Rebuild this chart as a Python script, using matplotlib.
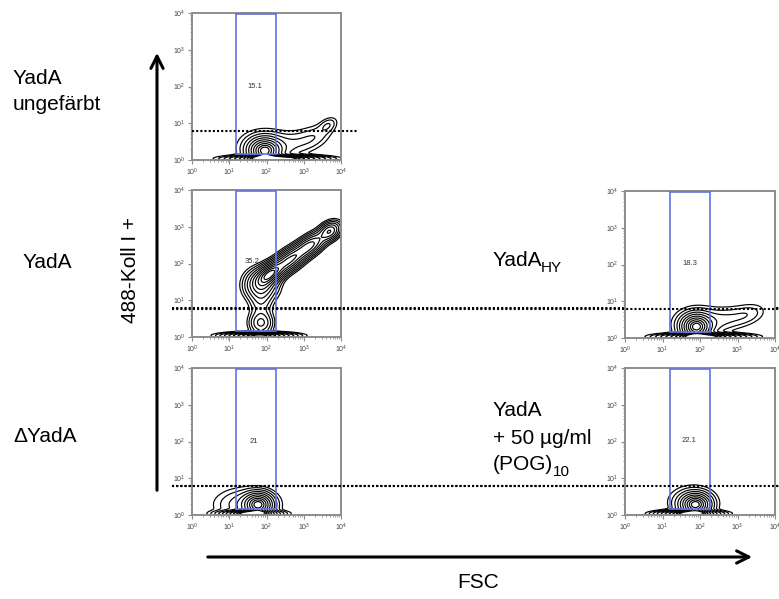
import numpy as np
import matplotlib.pyplot as plt
import matplotlib.transforms as mtransforms
from matplotlib.patches import Rectangle, FancyArrowPatch

plt.rcParams['font.family'] = ['Liberation Sans', 'DejaVu Sans']
plt.rcParams['mathtext.fontset'] = 'custom'
plt.rcParams['mathtext.rm'] = 'Liberation Sans'
plt.rcParams['mathtext.it'] = 'Liberation Sans:italic'

W, H = 779, 599

# gate values shown in each panel
gate_pct = ['15.1', '35.2', '21', '18.3', '22.1']
gate_lbl_x = [50, 41, 46, 54, 51]
gate_lbl_y = [103, 110, 103, 108, 108]
gate_x = [15.5, 180]
gate_y = [1.45, 9500]
threshold = 6.0

# populations, in decades:
# (log FSC, log 488-Koll I, sd along, sd across, angle deg, weight)
pop_ungefaerbt = [
    (1.95, 0.25, 0.24, 0.19, 0, 1.0),
    (1.95, 0.35, 0.42, 0.28, 0, 0.18),
    (2.75, 0.45, 0.45, 0.22, 12, 0.10),
    (3.30, 0.65, 0.32, 0.18, 25, 0.08),
    (3.65, 0.95, 0.17, 0.11, 35, 0.11),
    (2.30, 0.04, 0.65, 0.05, 0, 1.4),
]
pop_yada = [
    (1.85, 1.42, 0.25, 0.24, 0, 0.55),
    (2.10, 1.72, 0.25, 0.15, 36, 1.0),
    (2.60, 2.08, 0.30, 0.15, 36, 0.8),
    (3.15, 2.48, 0.30, 0.14, 36, 0.7),
    (3.70, 2.88, 0.18, 0.13, 36, 0.6),
    (1.85, 0.38, 0.18, 0.18, 0, 0.35),
    (1.85, 0.95, 0.18, 0.28, 0, 0.16),
    (1.80, 0.04, 0.50, 0.05, 0, 1.2),
]
pop_delta = [
    (1.78, 0.28, 0.22, 0.18, 0, 1.0),
    (1.45, 0.28, 0.50, 0.27, 0, 0.18),
    (1.55, 0.04, 0.42, 0.05, 0, 1.1),
]
pop_hy = [
    (1.90, 0.30, 0.22, 0.19, 0, 1.0),
    (1.95, 0.40, 0.40, 0.27, 0, 0.16),
    (2.70, 0.52, 0.42, 0.20, 8, 0.11),
    (3.30, 0.66, 0.30, 0.17, 15, 0.08),
    (2.10, 0.04, 0.60, 0.05, 0, 1.2),
]
pop_pog = [
    (1.88, 0.28, 0.22, 0.17, 0, 1.0),
    (1.80, 0.35, 0.38, 0.26, 0, 0.17),
    (1.70, 0.04, 0.45, 0.05, 0, 1.1),
]
populations = [pop_ungefaerbt, pop_yada, pop_delta, pop_hy, pop_pog]

# axes boxes in pixels: left, top, right, bottom
boxes = [(192, 13, 341, 160), (192, 190, 341, 337), (192, 368, 341, 515),
         (625, 191, 775, 338), (625, 368, 775, 515)]
# dotted threshold line extent in pixels
dot_span = [(192, 358), (172, 779), (172, 779), (172, 779), (172, 779)]


def density(comps, U, V):
    d = np.zeros_like(U)
    for u0, v0, sa, sb, ang, w in comps:
        a = np.deg2rad(ang)
        du, dv = U - u0, V - v0
        p = du * np.cos(a) + dv * np.sin(a)
        q = -du * np.sin(a) + dv * np.cos(a)
        d += w * np.exp(-0.5 * (p / sa) ** 2 - 0.5 * (q / sb) ** 2)
    return d


u = np.linspace(-0.2, 4.2, 500)
v = np.linspace(-0.3, 4.2, 500)
U, V = np.meshgrid(u, v)
ring = np.linspace(0.45, 2.6, 10)

fig = plt.figure(figsize=(W / 100, H / 100), dpi=100)

for i, (l, t, r, b) in enumerate(boxes):
    ax = fig.add_axes([l / W, 1 - b / H, (r - l) / W, (b - t) / H])
    ax.set_xscale('log')
    ax.set_yscale('log')
    D = density(populations[i], U, V)
    # ring levels relative to the brightest non-band spot
    peak = density(populations[i][:-1], U, V).max()
    levels = np.sort(peak * np.exp(-0.5 * ring ** 2))
    ax.contour(10 ** U, 10 ** V, D, levels=levels, colors='black', linewidths=0.85)
    ax.set_xlim(1, 10000)
    ax.set_ylim(1, 10000)
    ax.add_patch(Rectangle((gate_x[0], gate_y[0]), gate_x[1] - gate_x[0],
                           gate_y[1] - gate_y[0], fill=False,
                           edgecolor='#5f73e0', lw=1.2, zorder=5))
    ax.text(gate_lbl_x[i], gate_lbl_y[i], gate_pct[i], fontsize=5.5,
            color='#333333', ha='center', va='center', zorder=7)
    trans = mtransforms.blended_transform_factory(ax.transAxes, ax.transData)
    x0 = (dot_span[i][0] - l) / (r - l)
    x1 = (dot_span[i][1] - l) / (r - l)
    ax.plot([x0, x1], [threshold, threshold], transform=trans, color='black',
            lw=1.5, ls=(0, (1, 1)), clip_on=False, zorder=6)
    for s in ax.spines.values():
        s.set_color('#8c8c8c')
        s.set_linewidth(1.4)
    ax.tick_params(which='major', length=3, width=0.8, color='#8c8c8c',
                   labelsize=5, labelcolor='#444444', pad=2)
    ax.tick_params(which='minor', length=1.6, width=0.6, color='#8c8c8c')
    ax.set_xticks([1, 10, 100, 1000, 10000])
    ax.set_yticks([1, 10, 100, 1000, 10000])

# row labels
fig.text(13 / W, 1 - 79 / H, 'YadA', fontsize=15, va='center')
fig.text(13 / W, 1 - 105 / H, 'ungefärbt', fontsize=15, va='center')
fig.text(23 / W, 1 - 263 / H, 'YadA', fontsize=15, va='center')
fig.text(13 / W, 1 - 437 / H, 'ΔYadA', fontsize=15, va='center')
fig.text(493 / W, 1 - 261 / H, 'YadA', fontsize=15, va='center')
fig.text(541 / W, 1 - 268 / H, 'HY', fontsize=11, va='center')
fig.text(493 / W, 1 - 411 / H, 'YadA', fontsize=15, va='center')
fig.text(493 / W, 1 - 438 / H, '+ 50 µg/ml', fontsize=15, va='center')
fig.text(493 / W, 1 - 465 / H, '(POG)', fontsize=15, va='center')
fig.text(553 / W, 1 - 472 / H, '10', fontsize=11, va='center')

# axis arrows
fig.add_artist(FancyArrowPatch((157 / W, 1 - 493 / H), (157 / W, 1 - 50 / H),
                               transform=fig.transFigure, arrowstyle='->',
                               mutation_scale=22, lw=2.2, color='black'))
fig.text(131 / W, 1 - 270 / H, '488-Koll I +', fontsize=15, rotation=90,
         ha='center', va='center')
fig.add_artist(FancyArrowPatch((205 / W, 1 - 557 / H), (755 / W, 1 - 557 / H),
                               transform=fig.transFigure, arrowstyle='->',
                               mutation_scale=22, lw=2.2, color='black'))
fig.text(478 / W, 1 - 583 / H, 'FSC', fontsize=15, ha='center', va='center')

fig.savefig('out.png', dpi=100)
